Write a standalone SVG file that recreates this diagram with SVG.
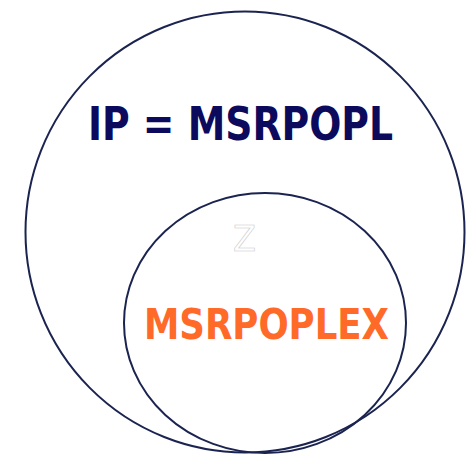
<svg xmlns="http://www.w3.org/2000/svg" width="467" height="454" viewBox="0 0 467 454">
<style>
.ring{fill:none;stroke:#1b2450;stroke-width:2}
.t{font-family:"DejaVu Sans","Verdana",sans-serif}
</style>
<rect width="467" height="454" fill="#ffffff"/>
<g id="outer">
<ellipse class="ring" cx="245" cy="232" rx="219.5" ry="220.5"/>
<text class="t" x="88" y="140" font-size="46" font-weight="bold" fill="#0c0a5c" textLength="305" lengthAdjust="spacingAndGlyphs">IP = MSRPOPL</text>
</g>
<g id="inner">
<ellipse class="ring" cx="265" cy="323" rx="141" ry="130"/>
<text class="t" x="144" y="339" font-size="42" font-weight="bold" fill="#ff6a28" textLength="245" lengthAdjust="spacingAndGlyphs">MSRPOPLEX</text>
</g>
<g id="z">
<text class="t" x="233" y="251" font-size="36" fill="#ffffff" stroke="#c8c8c8" stroke-width="0.6" textLength="23" lengthAdjust="spacingAndGlyphs">Z</text>
</g>
</svg>
